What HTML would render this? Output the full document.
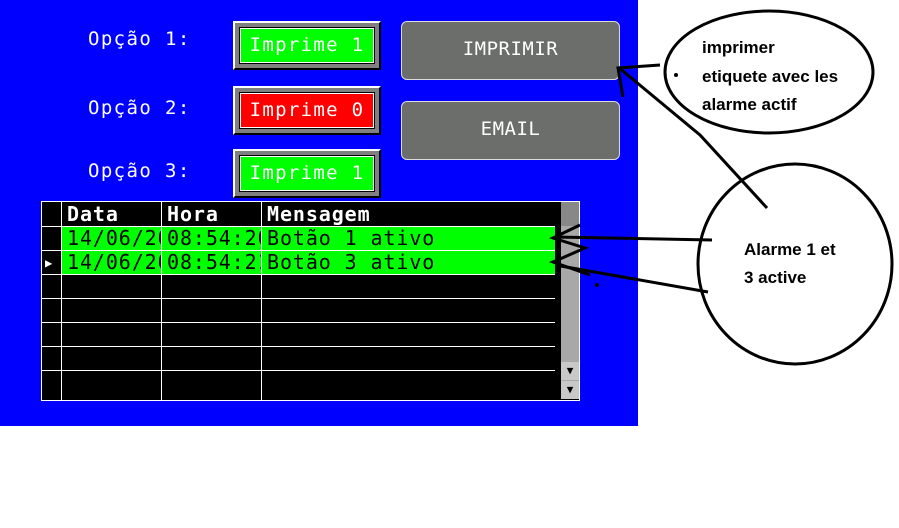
<!DOCTYPE html>
<html><head><style>
body{margin:0;width:899px;height:528px;background:#fff;position:relative;overflow:hidden;font-family:"DejaVu Sans Mono","Liberation Mono",monospace}
.a{position:absolute}
.lbl{color:#fff;font-size:19px;letter-spacing:1.4px}
.ob{position:absolute;width:148px;height:49px;background:#808080;border-top:2px solid #fff;border-left:2px solid #fff;border-right:2px solid #000;border-bottom:2px solid #000;box-sizing:border-box}
.ib{position:absolute;left:5px;top:5px;right:5px;bottom:5px;border:1px solid #fff;outline:1px solid #000;color:#fff;font-size:19px;text-align:center;line-height:33px;letter-spacing:1.3px}
.gb{position:absolute;width:219px;height:59px;background:#6b6e6a;border:1px solid #ddd;border-radius:6px;color:#fff;font-size:19px;text-align:center;box-sizing:border-box;letter-spacing:0.5px}
.h{position:absolute;height:1px;background:#fff}
.v{position:absolute;width:1px;background:#fff}
.t{position:absolute;font-size:20px;letter-spacing:0.9px;white-space:nowrap;overflow:hidden;line-height:24px}
</style></head><body>
<div class="a" style="left:0;top:0;width:638px;height:426px;background:#0000ff"></div>
<div class="a lbl" style="left:88px;top:28px">Opção 1:</div>
<div class="a lbl" style="left:88px;top:97px">Opção 2:</div>
<div class="a lbl" style="left:88px;top:160px">Opção 3:</div>
<div class="ob" style="left:233px;top:21px"><div class="ib" style="background:#00ff00">Imprime 1</div></div>
<div class="ob" style="left:233px;top:86px"><div class="ib" style="background:#ff0000">Imprime 0</div></div>
<div class="ob" style="left:233px;top:149px"><div class="ib" style="background:#00ff00">Imprime 1</div></div>
<div class="gb" style="left:401px;top:21px;line-height:55px">IMPRIMIR</div>
<div class="gb" style="left:401px;top:101px;line-height:55px">EMAIL</div>
<div class="a" style="left:41px;top:201px;width:539px;height:200px;background:#000;border:1px solid #fff;box-sizing:border-box"></div>
<div class="a" style="left:61px;top:227px;width:494px;height:47px;background:#00ff00"></div>
<div class="h" style="left:41px;top:226px;width:514px"></div>
<div class="h" style="left:41px;top:250px;width:514px"></div>
<div class="h" style="left:41px;top:274px;width:514px"></div>
<div class="h" style="left:41px;top:298px;width:514px"></div>
<div class="h" style="left:41px;top:322px;width:514px"></div>
<div class="h" style="left:41px;top:346px;width:514px"></div>
<div class="h" style="left:41px;top:370px;width:514px"></div>
<div class="v" style="left:61px;top:201px;height:199px"></div>
<div class="v" style="left:161px;top:201px;height:199px"></div>
<div class="v" style="left:261px;top:201px;height:199px"></div>
<div class="t" style="left:67px;top:202px;width:93px;color:#fff;font-weight:bold">Data</div>
<div class="t" style="left:167px;top:202px;width:93px;color:#fff;font-weight:bold">Hora</div>
<div class="t" style="left:267px;top:202px;width:280px;color:#fff;font-weight:bold">Mensagem</div>
<div class="t" style="left:67px;top:226px;width:94px">14/06/20</div>
<div class="t" style="left:167px;top:226px;width:94px">08:54:20</div>
<div class="t" style="left:267px;top:226px;width:280px">Botão 1 ativo</div>
<div class="t" style="left:67px;top:250px;width:94px">14/06/20</div>
<div class="t" style="left:167px;top:250px;width:94px">08:54:21</div>
<div class="t" style="left:267px;top:250px;width:280px">Botão 3 ativo</div>
<div class="t" style="left:45px;top:251px;color:#fff;font-size:12px">▶</div>
<div class="a" style="left:561px;top:202px;width:18px;height:197px;background:#a8a8a8"></div>
<div class="a" style="left:561px;top:202px;width:18px;height:24px;background:#888"></div>
<div class="a" style="left:561px;top:362px;width:18px;height:18px;background:#c8c8c8;font-size:11px;text-align:center;line-height:18px">▼</div>
<div class="a" style="left:561px;top:381px;width:18px;height:18px;background:#c8c8c8;font-size:11px;text-align:center;line-height:18px">▼</div>
<svg class="a" style="left:0;top:0" width="899" height="528">
<ellipse cx="769" cy="72" rx="104" ry="61" fill="#fff" stroke="#000" stroke-width="3"/>
<ellipse cx="795" cy="264" rx="97" ry="100" fill="#fff" stroke="#000" stroke-width="3"/>
<g stroke="#000" stroke-width="3" fill="none">
<polyline points="767,208 700,135 618,67"/>
<polyline points="660,65 618,68 623,97"/>
<polyline points="712,240 555,237"/>
<polyline points="580,225 553,238 585,248 553,262 590,275"/>
<polyline points="708,292 555,265"/>
</g>
<circle cx="676" cy="75" r="2" fill="#000"/>
<circle cx="597" cy="285" r="2" fill="#000"/>
<text x="702" y="53" font-family="Liberation Sans" font-weight="bold" font-size="17">imprimer</text>
<text x="702" y="82" font-family="Liberation Sans" font-weight="bold" font-size="17">etiquete avec les</text>
<text x="702" y="110" font-family="Liberation Sans" font-weight="bold" font-size="17">alarme actif</text>
<text x="744" y="255" font-family="Liberation Sans" font-weight="bold" font-size="17">Alarme 1 et</text>
<text x="744" y="283" font-family="Liberation Sans" font-weight="bold" font-size="17">3 active</text>
</svg>
</body></html>
